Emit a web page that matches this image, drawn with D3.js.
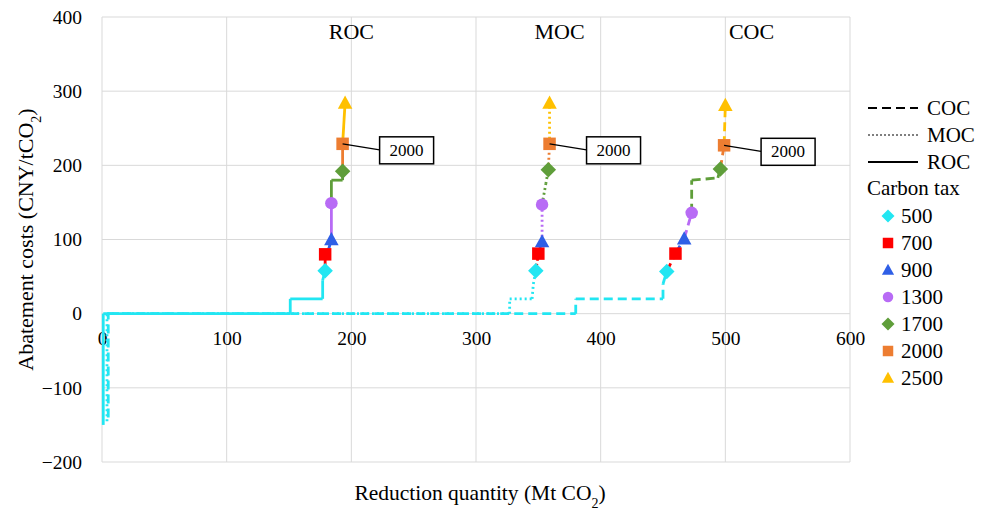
<!DOCTYPE html>
<html>
<head>
<meta charset="utf-8">
<script src="https://cdn.jsdelivr.net/npm/d3@7"></script>
<style>
  body { margin: 0; background: #fff; }
  svg text { font-family: "Liberation Serif", "Times New Roman", serif; fill: #000; }
</style>
</head>
<body>
<div id="chart"></div>
<script>
// carbon tax levels and their marker styles
const taxes = ["500", "700", "900", "1300", "1700", "2000", "2500"];
const taxColors = ["#22e6f2", "#ff0000", "#2f5fe6", "#b86bf5", "#5f9e3a", "#ed7d31", "#ffc000"];
const taxShapes = ["diamond", "square", "triangle", "circle", "diamond", "square", "triangle"];

// curve names
const curveNames = ["COC", "MOC", "ROC"];

// ROC step curve (reduction Mt CO2, cost CNY/tCO2)
const rocX = [1, 1, 151, 151, 177, 177, 179, 179, 182, 184, 184, 184, 193, 193, 193, 195];
const rocY = [-150, 0, 0, 20, 20, 45, 58, 80, 88, 100, 149, 180, 180, 192, 229, 284];
const rocMarkX = [179, 179, 184, 184, 193, 193, 195];
const rocMarkY = [58, 80, 100, 149, 192, 229, 284];

// MOC step curve
const mocX = [4, 4, 327, 327, 345, 346, 348, 350, 353, 353, 356, 358, 359, 359];
const mocY = [-145, 0, 0, 20, 20, 40, 58, 81, 97, 147, 175, 194, 229, 284];
const mocMarkX = [348, 350, 353, 353, 358, 359, 359];
const mocMarkY = [58, 81, 97, 147, 194, 229, 284];

// COC step curve
const cocX = [5, 5, 380, 380, 450, 450, 453, 460, 467, 473, 473, 494, 496, 499, 500];
const cocY = [-140, 0, 0, 20, 20, 40, 57, 81, 101, 136, 180, 183, 195, 227, 281];
const cocMarkX = [453, 460, 467, 473, 496, 499, 500];
const cocMarkY = [57, 81, 101, 136, 195, 227, 281];

// curve labels at top of chart
const topLabels = ["ROC", "MOC", "COC"];
const topLabelX = [200, 367, 521];

const xTicks = [0, 100, 200, 300, 400, 500, 600];
const yTicks = [-200, -100, 0, 100, 200, 300, 400];

const W = 992, H = 511;
const margin = {top: 17, right: 142, bottom: 49, left: 102};
const serif = "Liberation Serif";

const svg = d3.select("#chart").append("svg")
    .attr("width", W)
    .attr("height", H)
    .attr("font-family", serif);

const x = d3.scaleLinear().domain([0, 600]).range([margin.left, W - margin.right]);
const y = d3.scaleLinear().domain([-200, 400]).range([H - margin.bottom, margin.top]);

// grid
svg.append("g")
    .selectAll("line.h")
    .data(yTicks)
    .join("line")
    .attr("x1", x(0)).attr("x2", x(600))
    .attr("y1", d => y(d)).attr("y2", d => y(d))
    .attr("stroke", "#d9d9d9").attr("stroke-width", 1);

svg.append("g")
    .selectAll("line.v")
    .data(xTicks)
    .join("line")
    .attr("x1", d => x(d)).attr("x2", d => x(d))
    .attr("y1", y(-200)).attr("y2", y(400))
    .attr("stroke", "#d9d9d9").attr("stroke-width", 1);

// y axis tick labels
const yAxis = d3.axisLeft(y).tickValues(yTicks).tickSize(0).tickPadding(20);
svg.append("g")
    .attr("transform", `translate(${x(0)},0)`)
    .call(yAxis)
    .call(g => g.select(".domain").remove())
    .selectAll("text")
    .style("font-family", serif)
    .style("font-size", "19.5px");

// x axis tick labels sit below the zero line
const xAxis = d3.axisBottom(x).tickValues(xTicks).tickSize(0).tickPadding(17);
svg.append("g")
    .attr("transform", `translate(0,${y(0)})`)
    .call(xAxis)
    .call(g => g.select(".domain").remove())
    .selectAll("text")
    .style("font-family", serif)
    .style("font-size", "19.5px");

// axis titles
svg.append("text")
    .attr("transform", `translate(33,${(y(400) + y(-200)) / 2}) rotate(-90)`)
    .attr("text-anchor", "middle")
    .style("font-family", serif)
    .style("font-size", "22px")
    .html('Abatement costs (CNY/tCO<tspan baseline-shift="sub" font-size="14px">2</tspan>)');

svg.append("text")
    .attr("x", 480)
    .attr("y", 500)
    .attr("text-anchor", "middle")
    .style("font-family", serif)
    .style("font-size", "21.5px")
    .html('Reduction quantity (Mt CO<tspan baseline-shift="sub" font-size="14px">2</tspan>)');

// curves
const curves = [
    {name: "COC", xs: cocX, ys: cocY, mx: cocMarkX, my: cocMarkY, dash: "9,5"},
    {name: "MOC", xs: mocX, ys: mocY, mx: mocMarkX, my: mocMarkY, dash: "2,3"},
    {name: "ROC", xs: rocX, ys: rocY, mx: rocMarkX, my: rocMarkY, dash: null}
];

const line = d3.line().x(d => x(d[0])).y(d => y(d[1]));

// colour of a segment is the tax level whose marker is reached first
function segColor(c, yv) {
    for (let i = 0; i < c.my.length; i++) {
        if (yv <= c.my[i]) return taxColors[i];
    }
    return taxColors[taxColors.length - 1];
}

curves.forEach(c => {
    const g = svg.append("g");
    for (let i = 1; i < c.xs.length; i++) {
        g.append("path")
            .attr("d", line([[c.xs[i - 1], c.ys[i - 1]], [c.xs[i], c.ys[i]]]))
            .attr("fill", "none")
            .attr("stroke", segColor(c, c.ys[i]))
            .attr("stroke-width", 2.8)
            .attr("stroke-dasharray", c.dash);
    }
});

// markers (diamond = square turned 45 degrees, like Excel)
function markerPath(shape, s) {
    if (shape === "diamond") {
        return `M0,${-s * 0.62}L${s * 0.62},0L0,${s * 0.62}L${-s * 0.62},0Z`;
    }
    if (shape === "square") {
        return `M${-s / 2},${-s / 2}h${s}v${s}h${-s}Z`;
    }
    if (shape === "triangle") {
        return `M0,${-s * 0.6}L${s * 0.58},${s * 0.45}L${-s * 0.58},${s * 0.45}Z`;
    }
    return d3.symbol(d3.symbolCircle, Math.PI * (s / 2) * (s / 2))();
}

curves.forEach(c => {
    svg.append("g")
        .selectAll("path")
        .data(c.mx.map((v, i) => [v, c.my[i], i]))
        .join("path")
        .attr("transform", d => `translate(${x(d[0])},${y(d[1])})`)
        .attr("d", d => markerPath(taxShapes[d[2]], 12.5))
        .attr("fill", d => taxColors[d[2]]);
});

// "2000" callouts
curves.forEach(c => {
    const px = x(c.mx[5]), py = y(c.my[5]);
    const bx = px + 37, by = py - 7;
    svg.append("line")
        .attr("x1", px).attr("y1", py)
        .attr("x2", bx).attr("y2", by + 13)
        .attr("stroke", "#000").attr("stroke-width", 1.3);
    svg.append("rect")
        .attr("x", bx).attr("y", by)
        .attr("width", 54).attr("height", 27)
        .attr("fill", "#fff").attr("stroke", "#000").attr("stroke-width", 1.5);
    svg.append("text")
        .attr("x", bx + 27).attr("y", by + 19)
        .attr("text-anchor", "middle")
        .style("font-family", serif)
        .style("font-size", "17px")
        .text("2000");
});

// curve names at the top
svg.append("g")
    .selectAll("text")
    .data(topLabels)
    .join("text")
    .attr("x", (d, i) => x(topLabelX[i]))
    .attr("y", 39)
    .attr("text-anchor", "middle")
    .style("font-family", serif)
    .style("font-size", "22px")
    .text(d => d);

// legend
const lg = svg.append("g");
const lineDash = {COC: "9,5", MOC: "2,2", ROC: null};
curveNames.forEach((n, i) => {
    const ly = 108 + i * 27;
    lg.append("line")
        .attr("x1", 868).attr("x2", 918)
        .attr("y1", ly).attr("y2", ly)
        .attr("stroke", "#000")
        .attr("stroke-width", n === "MOC" ? 1.2 : 2)
        .attr("stroke-dasharray", lineDash[n]);
    lg.append("text")
        .attr("x", 927).attr("y", ly + 7)
        .style("font-family", serif)
        .style("font-size", "21px")
        .text(n);
});
lg.append("text")
    .attr("x", 867).attr("y", 195)
    .style("font-family", serif)
    .style("font-size", "21px")
    .text("Carbon tax");
taxes.forEach((t, i) => {
    const ly = 216 + i * 27;
    lg.append("path")
        .attr("transform", `translate(888,${ly})`)
        .attr("d", markerPath(taxShapes[i], 10.5))
        .attr("fill", taxColors[i]);
    lg.append("text")
        .attr("x", 901).attr("y", ly + 7)
        .style("font-family", serif)
        .style("font-size", "21px")
        .text(t);
});
</script>
</body>
</html>
